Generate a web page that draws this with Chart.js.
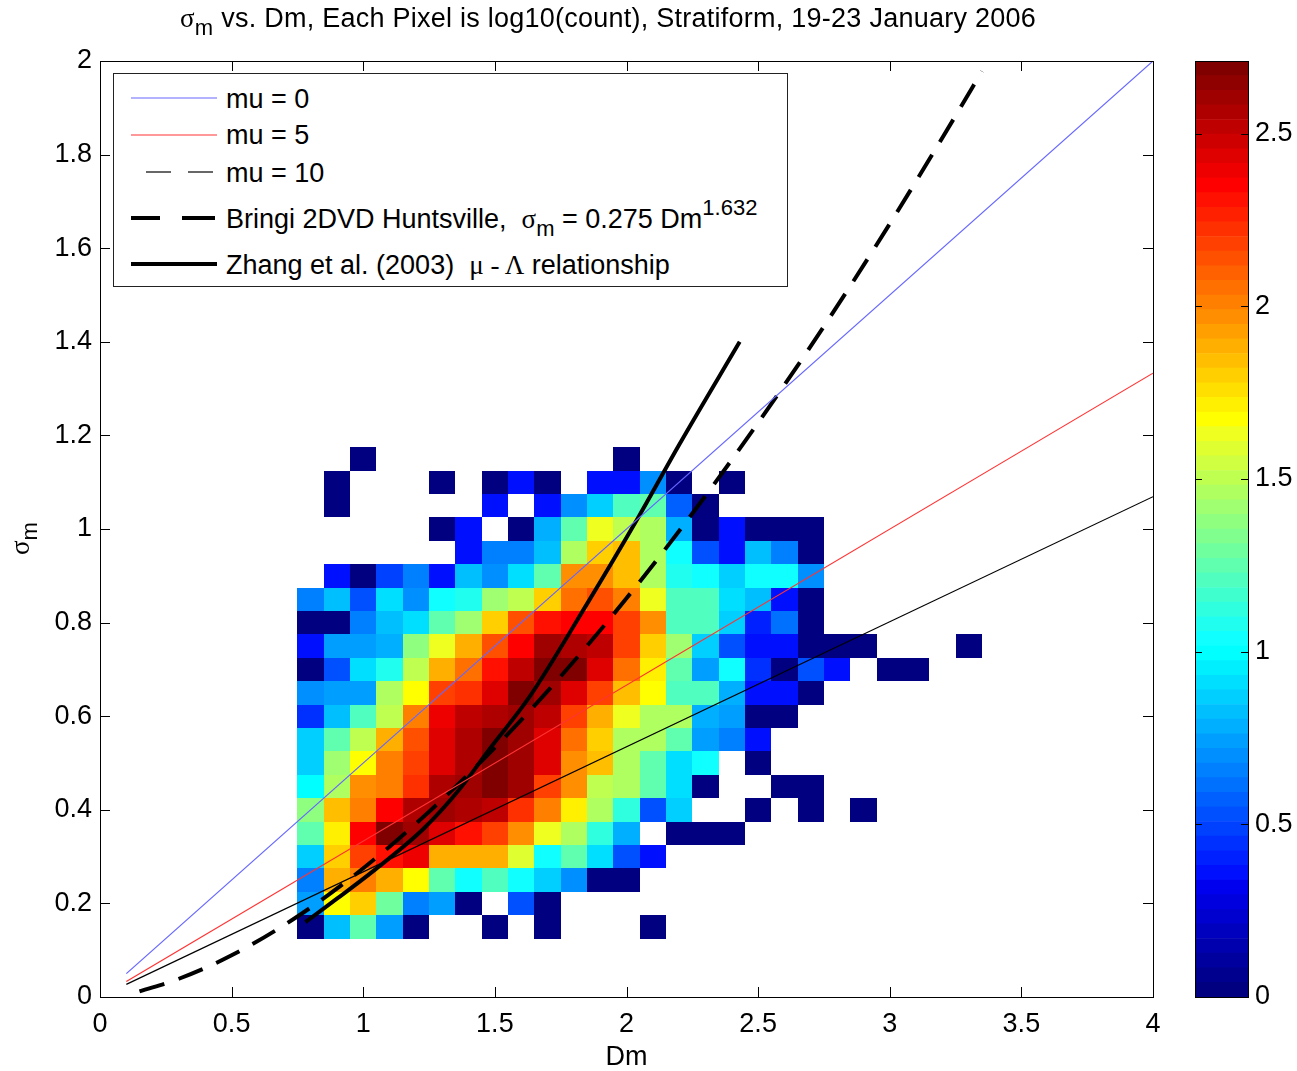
<!DOCTYPE html>
<html>
<head>
<meta charset="utf-8">
<script src="https://cdn.jsdelivr.net/npm/chart.js@4.4.1/dist/chart.umd.min.js"></script>
<style>
html, body { margin: 0; padding: 0; background: #fff; }
#wrap { position: relative; width: 1297px; height: 1071px; font-family: "Liberation Sans", Arial, sans-serif; color: #000; overflow: hidden; }
#cMain { position: absolute; left: 0; top: 0; }
#cBar { position: absolute; left: 1190px; top: 0; }
.title { position: absolute; left: 180px; top: 3px; font-size: 27px; line-height: 30px; white-space: nowrap; letter-spacing: 0.25px; }
.sym { font-family: "Liberation Serif", "DejaVu Serif", serif; }
.sub { font-size: 22px; position: relative; top: 8px; }
.sup { font-size: 22px; position: relative; top: -13px; }
.ylab { position: absolute; left: 0px; top: 520px; font-size: 27px; line-height: 30px; white-space: nowrap; transform: rotate(-90deg); transform-origin: 20px 15px; }
#legend { position: absolute; left: 113px; top: 73px; width: 675px; height: 214px; box-sizing: border-box; border: 1px solid #222; background: #fff; }
#legend svg { position: absolute; left: 0; top: 0; }
.lt { position: absolute; left: 112px; font-size: 27px; line-height: 30px; height: 30px; white-space: nowrap; }
</style>
</head>
<body>
<div id="wrap">
  <canvas id="cMain" width="1297" height="1071"></canvas>
  <canvas id="cBar" width="107" height="1071"></canvas>
  <div class="title"><span class="sym">σ</span><span class="sub">m</span> vs. Dm, Each Pixel is log10(count), Stratiform, 19-23 January 2006</div>
  <div class="ylab"><span class="sym">σ</span><span class="sub">m</span></div>
  <div id="legend">
    <svg width="673" height="212">
      <line x1="17" y1="24" x2="103" y2="24" stroke="#6666ff" stroke-width="1.2"/>
      <line x1="17" y1="61" x2="103" y2="61" stroke="#ff3333" stroke-width="1.2"/>
      <line x1="32" y1="98" x2="57" y2="98" stroke="#000" stroke-width="1.2"/>
      <line x1="74" y1="98" x2="99" y2="98" stroke="#000" stroke-width="1.2"/>
      <line x1="17" y1="144" x2="46" y2="144" stroke="#000" stroke-width="4"/>
      <line x1="68" y1="144" x2="101" y2="144" stroke="#000" stroke-width="4"/>
      <line x1="17" y1="190" x2="103" y2="190" stroke="#000" stroke-width="4"/>
    </svg>
    <div class="lt" style="top:10px">mu = 0</div>
    <div class="lt" style="top:46px">mu = 5</div>
    <div class="lt" style="top:84px">mu = 10</div>
    <div class="lt" style="top:130px">Bringi 2DVD Huntsville,&nbsp; <span class="sym">σ</span><span class="sub">m</span> = 0.275 Dm<span class="sup">1.632</span></div>
    <div class="lt" style="top:176px">Zhang et al. (2003)&nbsp; <span class="sym">μ - Λ</span> relationship</div>
  </div>
</div>
<script>
// ===== sigma_m vs Dm, log10(count) heat map =====

// bin centres
const DM_BINS = [0.8, 0.9, 1.0, 1.1, 1.2, 1.3, 1.4, 1.5, 1.6, 1.7, 1.8, 1.9, 2.0, 2.1, 2.2, 2.3, 2.4, 2.5, 2.6, 2.7, 2.8, 2.9, 3.0, 3.1, 3.2, 3.3];
const SIGMA_BINS = [0.15, 0.20, 0.25, 0.30, 0.35, 0.40, 0.45, 0.50, 0.55, 0.60, 0.65, 0.70, 0.75, 0.80, 0.85, 0.90, 0.95, 1.00, 1.05, 1.10, 1.15];
const DM_STEP = 0.1;
const SIGMA_STEP = 0.05;

// log10(count) per cell, one row per sigma bin (bottom to top), null = empty
const N = null;
const LOG_COUNT = [
    [0, 0.83, 1.23, 0.72, 0, N, N, 0, N, 0, N, N, N, 0, N, N, N, N, N, N, N, N, N, N, N, N],
    [0.72, 1.69, 1.82, 1.31, 0.64, 0.76, 0, N, 0.51, 0, N, N, N, N, N, N, N, N, N, N, N, N, N, N, N, N],
    [0.64, 1.90, 2.03, 1.90, 1.69, 1.23, 1.04, 1.19, 1.02, 0.87, 0.68, 0, 0, N, N, N, N, N, N, N, N, N, N, N, N, N],
    [0.87, 1.78, 2.16, 2.29, 2.41, 1.90, 1.90, 1.90, 1.57, 1.02, 1.23, 0.93, 0.55, 0.34, N, N, N, N, N, N, N, N, N, N, N, N],
    [1.23, 1.73, 2.33, 2.71, 2.62, 2.45, 2.29, 2.20, 1.95, 1.61, 1.44, 1.14, 0.78, N, 0, 0, 0, N, N, N, N, N, N, N, N, N],
    [1.36, 1.86, 2.03, 2.33, 2.58, 2.62, 2.58, 2.50, 2.24, 2.03, 1.73, 1.44, 1.14, 0.51, 0.87, N, N, 0, N, 0, N, 0, N, N, N, N],
    [0.98, 1.44, 1.95, 2.03, 2.24, 2.58, 2.62, 2.71, 2.62, 2.20, 1.95, 1.52, 1.44, 1.27, 0.89, 0, N, N, 0, 0, N, N, N, N, N, N],
    [0.85, 1.40, 1.69, 2.03, 2.20, 2.45, 2.58, 2.67, 2.62, 2.45, 1.99, 1.86, 1.48, 1.27, 0.93, 1.02, N, 0, N, N, N, N, N, N, N, N],
    [0.85, 1.27, 1.52, 1.90, 2.12, 2.45, 2.58, 2.67, 2.62, 2.45, 2.07, 1.82, 1.48, 1.44, 1.27, 0.72, 0.64, 0.34, N, N, N, N, N, N, N, N],
    [0.43, 0.81, 1.19, 1.52, 2.03, 2.41, 2.54, 2.58, 2.62, 2.50, 2.20, 1.90, 1.61, 1.44, 1.44, 0.78, 0.72, 0, 0, N, N, N, N, N, N, N],
    [0.68, 0.72, 0.72, 1.48, 1.69, 2.16, 2.24, 2.45, 2.69, 2.62, 2.45, 2.16, 1.86, 1.69, 1.19, 1.19, 0.78, 0.34, 0.34, 0, N, N, N, N, N, N],
    [0, 0.55, 0.89, 1.06, 1.52, 1.90, 2.07, 2.29, 2.54, 2.71, 2.67, 2.45, 2.07, 1.73, 1.27, 0.72, 1.02, 0.43, 0, 0.55, 0.37, N, 0, 0, N, N],
    [0.34, 0.72, 0.72, 0.78, 1.36, 1.65, 1.90, 2.12, 2.37, 2.62, 2.58, 2.54, 2.20, 1.82, 1.40, 0.85, 0.51, 0.37, 0.37, 0, 0, 0, N, N, N, 0],
    [0, 0, 0.64, 0.81, 0.93, 1.23, 1.40, 1.78, 2.12, 2.29, 2.37, 2.33, 2.20, 1.95, 1.19, 1.19, 0.85, 0.40, 0.60, 0, N, N, N, N, N, N],
    [0.64, 0.83, 0.51, 0.89, 0.70, 1.02, 1.06, 1.40, 1.52, 1.78, 2.07, 2.12, 2.03, 1.61, 1.19, 1.19, 0.93, 0.81, 0.36, 0, N, N, N, N, N, N],
    [N, 0.34, 0, 0.47, 0.64, 0.34, 0.81, 0.68, 0.93, 1.23, 1.95, 1.99, 1.86, 1.44, 1.10, 1.02, 0.87, 1.02, 1.02, 0.68, N, N, N, N, N, N],
    [N, N, N, N, N, N, 0.34, 0.64, 0.64, 0.81, 1.48, 1.82, 1.86, 1.44, 1.02, 0.51, 0.34, 0.81, 0.64, 0, N, N, N, N, N, N],
    [N, N, N, N, N, 0, 0.34, N, 0, 0.78, 1.23, 1.61, 1.52, 1.44, 0.78, 0, 0.34, 0, 0, 0, N, N, N, N, N, N],
    [N, 0, N, N, N, N, N, 0.34, N, 0.34, 0.68, 0.87, 1.19, 1.25, 0.58, 0, N, N, N, N, N, N, N, N, N, N],
    [N, 0, N, N, N, 0, N, 0, 0.34, 0, N, 0.34, 0.34, 0.68, 0, N, 0, N, N, N, N, N, N, N, N, N],
    [N, N, 0, N, N, N, N, N, N, N, N, N, 0, N, N, N, N, N, N, N, N, N, N, N, N, N]
];

// reference lines
const MU_DM = [0.1, 4.0];
const MU0_SIGMA = [0.05, 2.0];
const MU5_SIGMA = [0.033, 1.333];
const MU10_SIGMA = [0.027, 1.069];
const BRINGI_DM = [0.15, 0.3, 0.5, 0.75, 1.0, 1.25, 1.5, 1.75, 2.0, 2.25, 2.5, 2.75, 3.0, 3.25, 3.35];
const BRINGI_SIGMA = [0.012, 0.039, 0.089, 0.172, 0.275, 0.396, 0.533, 0.685, 0.852, 1.033, 1.227, 1.433, 1.652, 1.883, 1.978];
const ZHANG_DM = [0.78, 0.9, 1.04, 1.23, 1.36, 1.48, 1.63, 1.85, 2.05, 2.2, 2.43];
const ZHANG_SIGMA = [0.16, 0.21, 0.27, 0.36, 0.44, 0.53, 0.64, 0.84, 1.03, 1.18, 1.40];

// colour scale
const C_MIN = 0;
const C_MAX = 2.71;
const N_LEVELS = 64;
const CB_TICKS = [0, 0.5, 1, 1.5, 2, 2.5];

// MATLAB jet(64), row k = 0..63
function jet64(k) {
    const n = 16;
    const u = j => j <= 16 ? j / n : (j <= 31 ? 1 : (48 - j) / n);
    const i = k + 1;
    const r = i >= 25 ? u(i - 24) : 0;
    const g = (i >= 9 && i <= 55) ? u(i - 8) : 0;
    const b = i <= 39 ? u(i + 7) : 0;
    return `rgb(${Math.round(r * 255)},${Math.round(g * 255)},${Math.round(b * 255)})`;
}
function levelOf(v) {
    const k = Math.floor((v - C_MIN) / (C_MAX - C_MIN) * N_LEVELS);
    return Math.max(0, Math.min(N_LEVELS - 1, k));
}

const FONT = { family: '"Liberation Sans", Arial, sans-serif', size: 27 };
const fmt1 = v => String(+(+v).toFixed(1));
const pts = (xs, ys) => xs.map((x, i) => ({ x, y: ys[i] }));

// cells drawn under the lines, through the chart scales
const heatCells = {
    id: 'heatCells',
    beforeDatasetsDraw(chart) {
        const { ctx, scales: { x, y } } = chart;
        ctx.save();
        LOG_COUNT.forEach((row, j) => row.forEach((v, i) => {
            if (v === null) return;
            const x0 = Math.round(x.getPixelForValue(DM_BINS[i] - DM_STEP / 2));
            const x1 = Math.round(x.getPixelForValue(DM_BINS[i] + DM_STEP / 2));
            const y0 = Math.round(y.getPixelForValue(SIGMA_BINS[j] + SIGMA_STEP / 2));
            const y1 = Math.round(y.getPixelForValue(SIGMA_BINS[j] - SIGMA_STEP / 2));
            ctx.fillStyle = jet64(levelOf(v));
            ctx.fillRect(x0, y0, x1 - x0, y1 - y0);
        }));
        ctx.restore();
    }
};

// box + inward ticks, matlab style
const frameTicks = {
    id: 'frameTicks',
    afterDraw(chart, args, opts) {
        const { ctx, chartArea: a, scales } = chart;
        const len = opts.len || 10;
        ctx.save();
        ctx.strokeStyle = '#000';
        ctx.lineWidth = 1;
        ctx.beginPath();
        (opts.axes || []).forEach(id => {
            const s = scales[id];
            s.ticks.forEach(t => {
                const p = Math.round(s.getPixelForValue(t.value)) + 0.5;
                if (s.isHorizontal()) {
                    ctx.moveTo(p, a.bottom); ctx.lineTo(p, a.bottom - len);
                    ctx.moveTo(p, a.top); ctx.lineTo(p, a.top + len);
                } else {
                    ctx.moveTo(a.left, p); ctx.lineTo(a.left + len, p);
                    ctx.moveTo(a.right, p); ctx.lineTo(a.right - len, p);
                }
            });
        });
        ctx.stroke();
        ctx.strokeRect(Math.round(a.left) + 0.5, Math.round(a.top) + 0.5, Math.round(a.width), Math.round(a.height));
        ctx.restore();
    }
};

new Chart(document.getElementById('cMain').getContext('2d'), {
    type: 'scatter',
    data: {
        datasets: [
            { label: 'mu = 0', data: pts(MU_DM, MU0_SIGMA), showLine: true, borderColor: '#6666ff', borderWidth: 1.2, pointRadius: 0 },
            { label: 'mu = 5', data: pts(MU_DM, MU5_SIGMA), showLine: true, borderColor: '#ff3333', borderWidth: 1.2, pointRadius: 0 },
            { label: 'mu = 10', data: pts(MU_DM, MU10_SIGMA), showLine: true, borderColor: '#000', borderWidth: 1.2, pointRadius: 0 },
            { label: 'Bringi 2DVD Huntsville', data: pts(BRINGI_DM, BRINGI_SIGMA), showLine: true, borderColor: '#000', borderWidth: 4, borderDash: [26, 15], pointRadius: 0, cubicInterpolationMode: 'monotone' },
            { label: 'Zhang et al. (2003)', data: pts(ZHANG_DM, ZHANG_SIGMA), showLine: true, borderColor: '#000', borderWidth: 4, pointRadius: 0, cubicInterpolationMode: 'monotone' }
        ]
    },
    options: {
        responsive: false, animation: false,
        layout: { padding: { left: 0, right: 144, top: 61, bottom: 0 } },
        plugins: { legend: { display: false }, tooltip: { enabled: false }, frameTicks: { len: 10, axes: ['x', 'y'] } },
        scales: {
            x: { type: 'linear', min: 0, max: 4,
                ticks: { stepSize: 0.5, padding: 11, color: '#000', font: FONT, maxRotation: 0, callback: fmt1 },
                grid: { display: false, drawTicks: false }, border: { display: false },
                title: { display: true, text: 'Dm', color: '#000', font: { ...FONT, lineHeight: 1 }, padding: { top: 0, bottom: 0 } },
                afterFit: s => { s.height = 74; } },
            y: { type: 'linear', min: 0, max: 2,
                ticks: { stepSize: 0.2, padding: 8, color: '#000', font: FONT, callback: fmt1 },
                grid: { display: false, drawTicks: false }, border: { display: false },
                afterFit: s => { s.width = 100; } }
        }
    },
    plugins: [heatCells, frameTicks]
});

// colour bar: 64 stacked levels of jet
const LEVEL_STEP = (C_MAX - C_MIN) / N_LEVELS;
new Chart(document.getElementById('cBar').getContext('2d'), {
    type: 'bar',
    data: {
        labels: [''],
        datasets: Array.from({ length: N_LEVELS }, (_, k) => ({
            data: [LEVEL_STEP], backgroundColor: jet64(k), borderWidth: 0,
            barPercentage: 1, categoryPercentage: 1, stack: 'cb'
        }))
    },
    options: {
        responsive: false, animation: false,
        layout: { padding: { left: 5, right: 0, top: 61, bottom: 74 } },
        plugins: { legend: { display: false }, tooltip: { enabled: false }, frameTicks: { len: 7, axes: ['y'] } },
        scales: {
            x: { display: false, stacked: true },
            y: { stacked: true, min: C_MIN, max: C_MAX, position: 'right',
                afterBuildTicks: s => { s.ticks = CB_TICKS.map(value => ({ value })); },
                ticks: { padding: 7, color: '#000', font: FONT, callback: fmt1 },
                grid: { display: false, drawTicks: false }, border: { display: false },
                afterFit: s => { s.width = 49; } }
        }
    },
    plugins: [frameTicks]
});
</script>
</body>
</html>
